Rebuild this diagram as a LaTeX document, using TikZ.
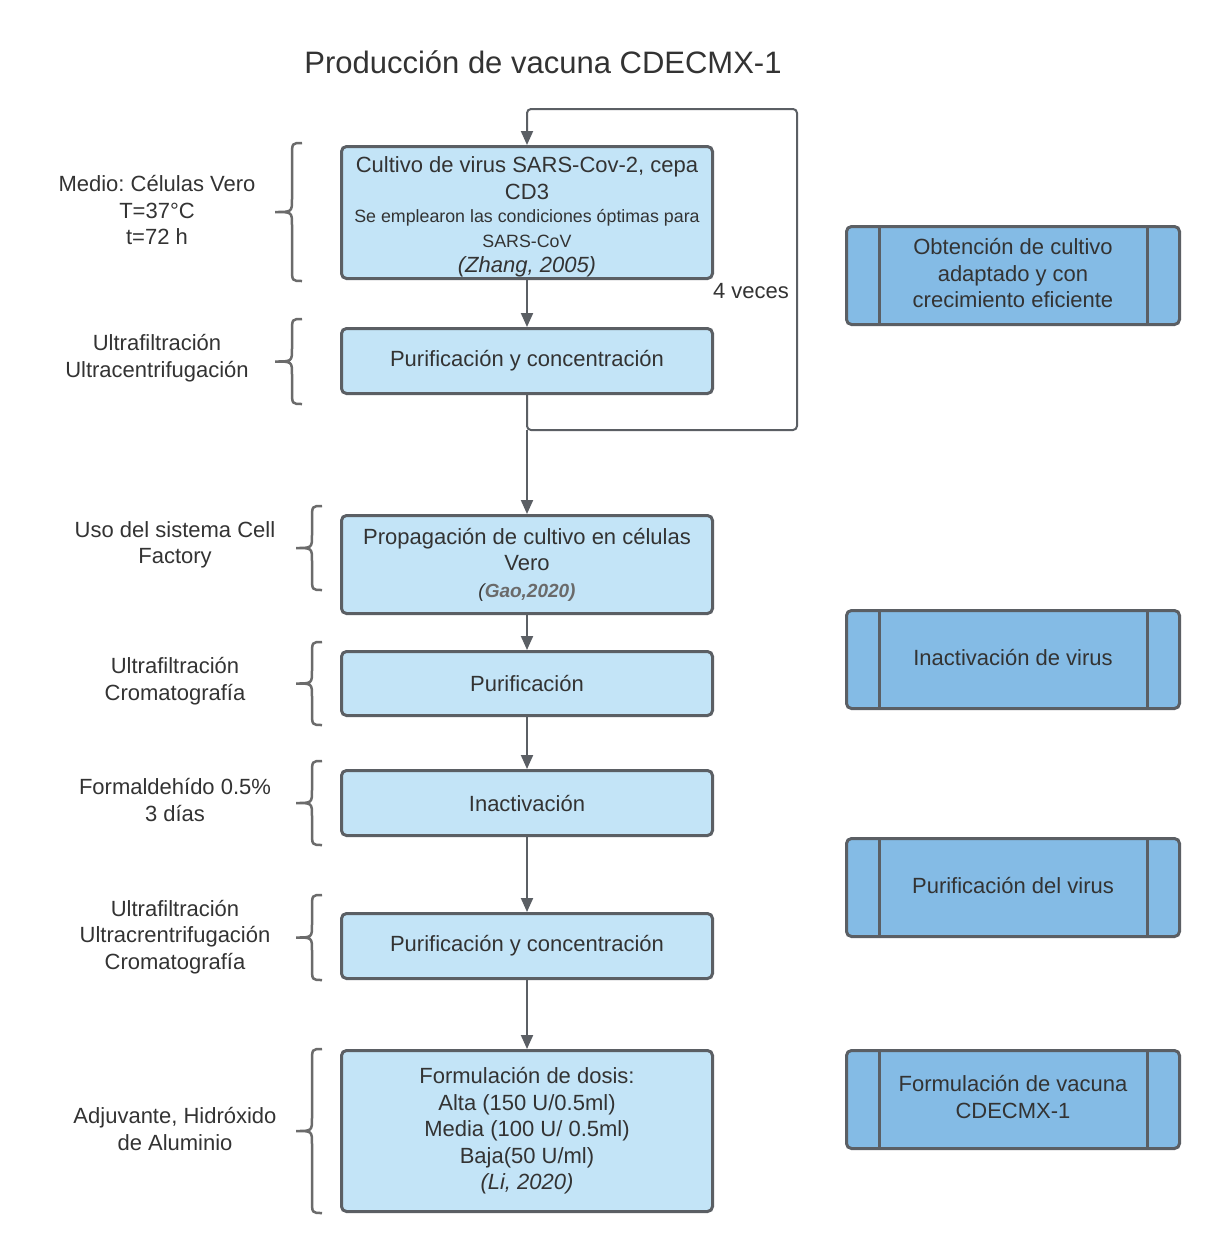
\documentclass[tikz,border=0pt]{standalone}
\usepackage{fontspec}
\setmainfont{Liberation Sans}
\usetikzlibrary{arrows.meta,calc}
\frenchspacing
\definecolor{boxfill}{HTML}{C3E4F7}
\definecolor{sidefill}{HTML}{84BBE5}
\definecolor{edge}{HTML}{5B5F64}
\definecolor{bracecol}{HTML}{6B6B6B}
\definecolor{txt}{HTML}{333333}
\definecolor{gaogray}{HTML}{6A6A6A}
\newcommand\fsMain{\fontsize{22}{26.5}\selectfont}
\newcommand\fsTop{\fontsize{22}{26}\selectfont}
\newcommand\fsSmall{\fontsize{17.8}{24.5}\selectfont}
\newcommand\fsLeft{\fontsize{22}{26.5}\selectfont}
% left brace: tip x, vertical x, end x, top y, bottom y
\newcommand\mybrace[5]{%
  \draw[brc] (#3,#4) .. controls (#2,#4) .. (#2,{#4+13})
    -- (#2,{(#4+#5)/2-13}) .. controls (#2,{(#4+#5)/2}) .. (#1,{(#4+#5)/2})
    .. controls (#2,{(#4+#5)/2}) .. (#2,{(#4+#5)/2+13})
    -- (#2,{#5-13}) .. controls (#2,#5) .. (#3,#5);}
\begin{document}
\begin{tikzpicture}[x=1pt,y=-1pt,
  stepbox/.style={draw=edge, fill=boxfill, line width=3pt, rounded corners=5pt,
    minimum width=371pt, text=txt, align=center, font=\fsMain, inner sep=0pt},
  sidebox/.style={draw=edge, fill=sidefill, line width=3pt, rounded corners=5pt,
    minimum width=333pt, minimum height=98pt, text=txt, align=center, font=\fsMain, inner sep=0pt},
  lbl/.style={text=txt, align=center, font=\fsLeft},
  flow/.style={draw=edge, line width=2pt, -{Triangle[length=14pt,width=12pt]}},
  brc/.style={draw=bracecol, line width=2.5pt},
  divider/.style={draw=edge, line width=3pt}
]
\fill[white] (0,0) rectangle (1221,1254);
\useasboundingbox (0,0) rectangle (1221,1254);

\node[text=txt, font=\fontsize{31}{36}\selectfont] (title) at (543,62) {Producción de vacuna CDECMX-1};

% main boxes
\node[stepbox, minimum height=132pt] (b1) at (527,212.5) {\fsTop\rule{0pt}{25pt}Cultivo de virus SARS-Cov-2, cepa\\\fsTop CD3\\[-3pt]\fsSmall Se emplearon las condiciones óptimas para\\[-2pt]\fsSmall SARS-CoV\\[-1pt]\fsTop\itshape (Zhang, 2005)};
\node[stepbox, minimum height=65pt] (b2) at (527,361) {Purificación y concentración\rule[-5pt]{0pt}{5pt}};
\node[stepbox, minimum height=98pt] (b3) at (527,564.5) {Propagación de cultivo en células\\Vero\\\fontsize{19}{25}\selectfont\itshape (\textcolor{gaogray}{\bfseries Gao,2020)}};
\node[stepbox, minimum height=64pt] (b4) at (527,683.5) {Purificación};
\node[stepbox, minimum height=65pt] (b5) at (527,803) {Inactivación};
\node[stepbox, minimum height=65pt] (b6) at (527,946) {Purificación y concentración};
\node[stepbox, minimum height=161pt] (b7) at (527,1131) {Formulación de dosis:\\Alta (150 U/0.5ml)\\Media (100 U/ 0.5ml)\\Baja(50 U/ml)\\\itshape (Li, 2020)};

% side boxes
\node[sidebox] (r1) at (1013,275.5) {Obtención de cultivo\\adaptado y con\\crecimiento eficiente\rule[-5pt]{0pt}{5pt}};
\node[sidebox] (r2) at (1013,659.5) {Inactivación de virus\rule[-5pt]{0pt}{5pt}};
\node[sidebox] (r3) at (1013,887.5) {Purificación del virus\rule[-5pt]{0pt}{5pt}};
\node[sidebox] (r4) at (1013,1099.5) {Formulación de vacuna\\CDECMX-1\rule[-5pt]{0pt}{5pt}};
\foreach \r in {r1,r2,r3,r4}{
  \draw[divider] ($(\r.north west)+(34,0)$) -- ($(\r.south west)+(34,0)$);
  \draw[divider] ($(\r.north east)+(-34,0)$) -- ($(\r.south east)+(-34,0)$);
}

% left labels
\node[lbl] (l1) at (157,210) {Medio: Células Vero\\T=37°C\\t=72 h};
\node[lbl] (l2) at (157,358) {Ultrafiltración\\Ultracentrifugación};
\node[lbl] (l3) at (175,545) {Uso del sistema Cell\\Factory};
\node[lbl] (l4) at (175,681) {Ultrafiltración\\Cromatografía};
\node[lbl] (l5) at (175,800) {Formaldehído 0.5\%\\3 días};
\node[lbl] (l6) at (175,937) {Ultrafiltración\\Ultracrentrifugación\\Cromatografía};
\node[lbl] (l7) at (175,1129) {Adjuvante, Hidróxido\\de Aluminio};

% braces
\mybrace{275}{292}{302}{143}{281}
\mybrace{275}{292}{302}{319}{404}
\mybrace{296}{312}{322}{506}{590}
\mybrace{296}{312}{322}{642}{725}
\mybrace{296}{312}{322}{761}{845}
\mybrace{296}{312}{322}{895}{980}
\mybrace{296}{312}{322}{1049}{1213}

% connectors
\coordinate (split) at (527,430);
\coordinate (loopTR) at (797,109);
\draw[flow] (b1) -- (b2);
\draw[flow, rounded corners=4pt] (b2.south) -- (split) -| (loopTR) -| (b1.north);
\draw[flow] (split) -- (b3.north);
\draw[flow] (b3) -- (b4);
\draw[flow] (b4) -- (b5);
\draw[flow] (b5) -- (b6);
\draw[flow] (b6) -- (b7);
\node[text=txt, font=\fsMain] (veces) at (751,291) {4 veces};
\end{tikzpicture}
\end{document}
